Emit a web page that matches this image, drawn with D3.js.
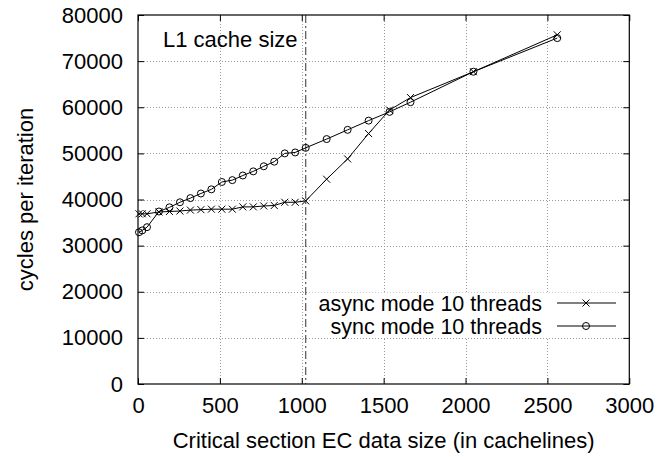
<!DOCTYPE html>
<html>
<head>
<meta charset="utf-8">
<script src="https://cdn.jsdelivr.net/npm/d3@7"></script>
<style>
  html, body { margin: 0; padding: 0; background: #fff; }
  svg { display: block; font-family: "Liberation Sans", Arial, Helvetica, sans-serif; }
</style>
</head>
<body>
<svg id="chart" width="661" height="457"></svg>
<script>
// ---- data ----
const asyncX = [6, 26, 55, 128, 192, 256, 320, 384, 448, 512, 576, 640, 704, 768, 832, 896, 960, 1024, 1152, 1280, 1408, 1536, 1664, 2048, 2560];
const asyncY = [36900, 36900, 36900, 37300, 37400, 37500, 37700, 37800, 37900, 37900, 37900, 38400, 38400, 38600, 38700, 39400, 39400, 39700, 44400, 48800, 54300, 59400, 62100, 67700, 75700];
const syncX  = [6, 26, 55, 128, 192, 256, 320, 384, 448, 512, 576, 640, 704, 768, 832, 896, 960, 1024, 1152, 1280, 1408, 1536, 1664, 2048, 2560];
const syncY  = [32900, 33300, 34000, 37400, 38300, 39400, 40300, 41300, 42200, 43800, 44200, 45200, 46100, 47200, 48200, 50000, 50200, 51200, 53100, 55100, 57100, 59000, 61100, 67700, 75000];
const xTicks = [0, 500, 1000, 1500, 2000, 2500, 3000];
const yTicks = [0, 10000, 20000, 30000, 40000, 50000, 60000, 70000, 80000];
const seriesNames = ["async mode 10 threads", "sync mode 10 threads"];
const l1CacheLine = 1024;
const l1Label = "L1 cache size";
const xTitle = "Critical section EC data size (in cachelines)";
const yTitle = "cycles per iteration";

// ---- layout ----
const svg = d3.select("#chart");
const L = 138, T = 15, R = 629.3, B = 384;
const x = d3.scaleLinear().domain([0, 3000]).range([L, R]);
const y = d3.scaleLinear().domain([0, 80000]).range([B, T]);
const fs = 22;

// grid
const grid = svg.append("g").attr("stroke", "#999").attr("stroke-width", 1).attr("stroke-dasharray", "1,2");
xTicks.slice(1, -1).forEach(t => grid.append("line").attr("x1", Math.round(x(t)) + 0.5).attr("x2", Math.round(x(t)) + 0.5).attr("y1", T).attr("y2", B));
yTicks.slice(1, -1).forEach(t => grid.append("line").attr("y1", Math.round(y(t)) + 0.5).attr("y2", Math.round(y(t)) + 0.5).attr("x1", L).attr("x2", R));

// legend background (opaque key)
svg.append("rect").attr("x", 309).attr("y", 292.5).attr("width", R - 310).attr("height", 45).attr("fill", "#fff");

// L1 cache line
svg.append("line").attr("x1", x(l1CacheLine)).attr("x2", x(l1CacheLine)).attr("y1", T).attr("y2", B)
  .attr("stroke", "#555").attr("stroke-width", 1.2).attr("stroke-dasharray", "8,3,2,3");

// axes via d3 with inner ticks
const fmt = d3.format("d");
const axB = svg.append("g").attr("transform", `translate(0,${B})`)
  .call(d3.axisBottom(x).tickValues(xTicks).tickFormat(fmt).tickSizeInner(-6).tickSizeOuter(0).tickPadding(13));
const axT = svg.append("g").attr("transform", `translate(0,${T})`)
  .call(d3.axisTop(x).tickValues(xTicks).tickFormat("").tickSizeInner(-6).tickSizeOuter(0));
const axL = svg.append("g").attr("transform", `translate(${L},0)`)
  .call(d3.axisLeft(y).tickValues(yTicks).tickFormat(fmt).tickSizeInner(-6).tickSizeOuter(0).tickPadding(15));
const axR = svg.append("g").attr("transform", `translate(${R},0)`)
  .call(d3.axisRight(y).tickValues(yTicks).tickFormat("").tickSizeInner(-6).tickSizeOuter(0));
[axB, axT, axL, axR].forEach(a => {
  a.select(".domain").remove();
  a.selectAll("line").attr("stroke", "#000");
  a.selectAll("text").attr("font-size", fs).attr("font-family", "Liberation Sans, Arial, sans-serif").attr("fill", "#000");
});

// frame
svg.append("rect").attr("x", L).attr("y", T).attr("width", R - L).attr("height", B - T)
  .attr("fill", "none").attr("stroke", "#000").attr("stroke-width", 1.2);

// label
svg.append("text").attr("x", 163).attr("y", 47).attr("font-size", fs).text(l1Label);

// titles
svg.append("text").attr("x", (L + R) / 2).attr("y", 448).attr("text-anchor", "middle").attr("font-size", fs).text(xTitle);
svg.append("text").attr("transform", `translate(33,${(T + B) / 2}) rotate(-90)`).attr("text-anchor", "middle").attr("font-size", fs).text(yTitle);

// series
const line = d3.line().x(d => x(d[0])).y(d => y(d[1]));
const aData = asyncX.map((v, i) => [v, asyncY[i]]);
const sData = syncX.map((v, i) => [v, syncY[i]]);
const g = svg.append("g").attr("fill", "none").attr("stroke", "#000").attr("stroke-width", 1);
g.append("path").attr("d", line(aData));
g.append("path").attr("d", line(sData));
const cross = (sel, cx, cy) => sel.append("path").attr("d", `M${cx-3.5},${cy-3.5}L${cx+3.5},${cy+3.5}M${cx-3.5},${cy+3.5}L${cx+3.5},${cy-3.5}`);
const circ = (sel, cx, cy) => sel.append("circle").attr("cx", cx).attr("cy", cy).attr("r", 3.5);
aData.forEach(d => cross(g, x(d[0]), y(d[1])));
sData.forEach(d => circ(g, x(d[0]), y(d[1])));

// legend
const legY = [303, 326];
seriesNames.forEach((n, i) => {
  svg.append("text").attr("x", 542).attr("y", legY[i] + 7.5).attr("text-anchor", "end").attr("font-size", 21.5).text(n);
  g.append("line").attr("x1", 557).attr("x2", 616).attr("y1", legY[i]).attr("y2", legY[i]);
  if (i === 0) cross(g, 586, legY[i]); else circ(g, 586, legY[i]);
});
</script>
</body>
</html>
